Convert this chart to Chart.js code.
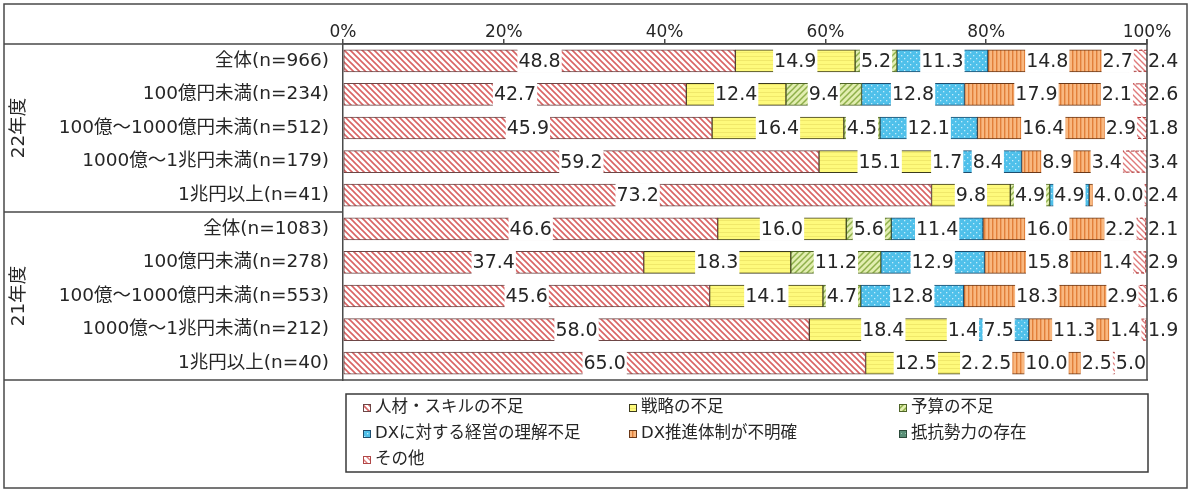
<!DOCTYPE html>
<html>
<head>
<meta charset="utf-8">
<script src="https://cdn.jsdelivr.net/npm/chart.js@4.4.1/dist/chart.umd.min.js"></script>
<style>
  html, body { margin: 0; padding: 0; background: #ffffff; }
  #wrap { width: 1200px; height: 496px; }
</style>
</head>
<body>
<div id="wrap"><canvas id="c" width="1200" height="496"></canvas></div>
<script>
// ---- data ----
const categories = [
  '全体(n=966)', '100億円未満(n=234)', '100億～1000億円未満(n=512)', '1000億～1兆円未満(n=179)', '1兆円以上(n=41)',
  '全体(n=1083)', '100億円未満(n=278)', '100億～1000億円未満(n=553)', '1000億～1兆円未満(n=212)', '1兆円以上(n=40)'
];
const groupLabels = ['22年度', '21年度'];
const groupSize = 5;
const seriesNames = ['人材・スキルの不足', '戦略の不足', '予算の不足', 'DXに対する経営の理解不足', 'DX推進体制が不明確', '抵抗勢力の存在', 'その他'];
const jinzai  = [48.8, 42.7, 45.9, 59.2, 73.2, 46.6, 37.4, 45.6, 58.0, 65.0];
const senryaku = [14.9, 12.4, 16.4, 15.1, 9.8, 16.0, 18.3, 14.1, 18.4, 12.5];
const yosan   = [5.2, 9.4, 4.5, 1.7, 4.9, 5.6, 11.2, 4.7, 1.4, 2.5];
const keiei   = [11.3, 12.8, 12.1, 8.4, 4.9, 11.4, 12.9, 12.8, 7.5, 2.5];
const suishin = [14.8, 17.9, 16.4, 8.9, 4.9, 16.0, 15.8, 18.3, 11.3, 10.0];
const teikou  = [2.7, 2.1, 2.9, 3.4, 0.0, 2.2, 1.4, 2.9, 1.4, 2.5];
const sonota  = [2.4, 2.6, 1.8, 3.4, 2.4, 2.1, 2.9, 1.6, 1.9, 5.0];
const tickValues = [0, 20, 40, 60, 80, 100];

// ---- patterns ----
const canvas = document.getElementById('c');
const mainCtx = canvas.getContext('2d');
function makePattern(size, draw) {
  const c = document.createElement('canvas');
  c.width = size; c.height = size;
  const g = c.getContext('2d');
  draw(g, size);
  return mainCtx.createPattern(c, 'repeat');
}
function hatchBack(bg, fg, w) { // "\\\" stripes
  return makePattern(6, (g, s) => {
    g.fillStyle = bg; g.fillRect(0, 0, s, s);
    g.strokeStyle = fg; g.lineWidth = w;
    g.beginPath();
    g.moveTo(-1, -1); g.lineTo(s + 1, s + 1);
    g.moveTo(-1, s - 1); g.lineTo(1, s + 1);
    g.moveTo(s - 1, -1); g.lineTo(s + 1, 1);
    g.stroke();
  });
}
function hatchFwd(bg, fg, w) { // "///" stripes
  return makePattern(6, (g, s) => {
    g.fillStyle = bg; g.fillRect(0, 0, s, s);
    g.strokeStyle = fg; g.lineWidth = w;
    g.beginPath();
    g.moveTo(-1, s + 1); g.lineTo(s + 1, -1);
    g.moveTo(-1, 1); g.lineTo(1, -1);
    g.moveTo(s - 1, s + 1); g.lineTo(s + 1, s - 1);
    g.stroke();
  });
}
const patJinzai = hatchBack('#ffffff', '#d96464', 1.6);
const patSenryaku = makePattern(4, (g, s) => {
  g.fillStyle = '#fefa7c'; g.fillRect(0, 0, s, s);
  g.fillStyle = '#f0e86a'; g.fillRect(0, 0, s, 1);
});
const patYosan = hatchFwd('#e2eeb0', '#8fb04a', 1.5);
const patKeiei = makePattern(6, (g, s) => {
  g.fillStyle = '#4fc0ea'; g.fillRect(0, 0, s, s);
  g.fillStyle = '#c4ecfa';
  g.fillRect(1, 1, 1.3, 1.3); g.fillRect(4, 4, 1.3, 1.3);
});
const patSuishin = makePattern(4, (g, s) => {
  g.fillStyle = '#f9b880'; g.fillRect(0, 0, s, s);
  g.fillStyle = '#e2803a'; g.fillRect(0, 0, 1.4, s);
});
const patTeikou = makePattern(4, (g, s) => {
  g.fillStyle = '#5a9078'; g.fillRect(0, 0, s, s);
  g.fillStyle = '#9cc8b0'; g.fillRect(1, 1, 1, 1);
});
const patSonota = hatchBack('#ffffff', '#e07a7a', 1.4);

const fills = [patJinzai, patSenryaku, patYosan, patKeiei, patSuishin, patTeikou, patSonota];
const borders = ['#6e4646', '#3b3a1e', '#4e6428', '#1e4d6e', '#6a3818', '#2c4a3a', '#b04848'];
const values = [jinzai, senryaku, yosan, keiei, suishin, teikou, sonota];

const datasets = seriesNames.map((name, i) => ({
  label: name,
  data: values[i],
  backgroundColor: fills[i],
  borderColor: borders[i],
  borderWidth: i === 6 ? 0 : 1,
  borderSkipped: false,
  barThickness: 22
}));

const FONT = '"DejaVu Sans", "Noto Sans CJK JP", sans-serif';

// ---- plugin: dashed border, labels, frame, legend, group labels ----
const decor = {
  id: 'decor',
  afterDatasetsDraw(chart) {
    const ctx = chart.ctx;
    const area = chart.chartArea;
    // dashed borders for "その他"
    const lastMeta = chart.getDatasetMeta(6);
    ctx.save();
    ctx.strokeStyle = '#a83c3c';
    ctx.lineWidth = 1;
    ctx.setLineDash([3, 2]);
    lastMeta.data.forEach(el => {
      const x0 = Math.min(el.base, el.x), x1 = Math.max(el.base, el.x);
      const h = el.height;
      ctx.strokeRect(x0 + 0.5, el.y - h / 2 + 0.5, Math.max(0, x1 - x0 - 1), h - 1);
    });
    ctx.restore();

    // value labels
    ctx.save();
    ctx.font = '19px ' + FONT;
    ctx.textBaseline = 'middle';
    chart.data.datasets.forEach((ds, di) => {
      const meta = chart.getDatasetMeta(di);
      meta.data.forEach((el, idx) => {
        const v = ds.data[idx];
        const txt = v.toFixed(1);
        const tw = ctx.measureText(txt).width;
        const x0 = Math.min(el.base, el.x), x1 = Math.max(el.base, el.x);
        const segW = x1 - x0;
        let cx = (x0 + x1) / 2;
        if (di === 6 && segW < tw + 6) {
          cx = area.right + 1 + tw / 2;
        } else if (di === 6) {
          cx += 4;
        }
        const bh = el.height;
        ctx.fillStyle = '#ffffff';
        ctx.fillRect(cx - tw / 2 - 1, el.y - bh / 2 - 1, tw + 2, bh + 2);
        ctx.fillStyle = '#262626';
        ctx.textAlign = 'center';
        ctx.fillText(txt, cx, el.y + 1);
      });
    });
    ctx.restore();
  },
  afterDraw(chart) {
    const ctx = chart.ctx;
    const area = chart.chartArea;
    const ys = chart.scales.y;
    ctx.save();
    ctx.strokeStyle = '#4a4a4a';
    ctx.lineWidth = 1.5;
    // outer frame
    ctx.strokeRect(4, 4, 1183, 484);
    ctx.beginPath();
    // header line
    ctx.moveTo(4, area.top); ctx.lineTo(area.right, area.top);
    // bottom of plot table
    ctx.moveTo(4, area.bottom); ctx.lineTo(area.right + 1, area.bottom);
    // 100% line
    ctx.moveTo(area.right, area.top - 5); ctx.lineTo(area.right, area.bottom);
    // group separators
    for (let g = 1; g < groupLabels.length; g++) {
      const yy = (ys.getPixelForValue(g * groupSize - 1) + ys.getPixelForValue(g * groupSize)) / 2;
      ctx.moveTo(4, yy); ctx.lineTo(area.left, yy);
    }
    ctx.stroke();

    // group labels (vertical)
    ctx.fillStyle = '#262626';
    ctx.font = '18.5px ' + FONT;
    ctx.textAlign = 'center';
    ctx.textBaseline = 'middle';
    groupLabels.forEach((lab, g) => {
      const yA = ys.getPixelForValue(g * groupSize);
      const yB = ys.getPixelForValue(g * groupSize + groupSize - 1);
      ctx.save();
      ctx.translate(19, (yA + yB) / 2);
      ctx.rotate(-Math.PI / 2);
      ctx.fillText(lab, 0, 0);
      ctx.restore();
    });

    // legend box
    const lx = 346, ly = 394, lw = area.right + 1 - 346, lh = 78;
    ctx.strokeStyle = '#3a3a3a';
    ctx.lineWidth = 1.5;
    ctx.strokeRect(lx, ly, lw, lh);
    const colX = [367, 633, 903];
    const rowY = [408, 434, 460];
    ctx.font = '16.5px ' + FONT;
    ctx.textAlign = 'left';
    ctx.textBaseline = 'middle';
    chart.data.datasets.forEach((ds, i) => {
      const cx = colX[i % 3], cy = rowY[Math.floor(i / 3)];
      ctx.fillStyle = ds.backgroundColor;
      ctx.fillRect(cx - 4, cy - 4, 8, 8);
      ctx.strokeStyle = ds.borderColor;
      ctx.lineWidth = 1;
      ctx.setLineDash([]);
      ctx.strokeRect(cx - 4 + 0.5, cy - 4 + 0.5, 7, 7);
      ctx.fillStyle = '#262626';
      ctx.fillText(ds.label, cx + 8, cy);
    });
    ctx.restore();
  }
};

new Chart(canvas, {
  type: 'bar',
  data: { labels: categories, datasets: datasets },
  options: {
    indexAxis: 'y',
    responsive: false,
    animation: false,
    devicePixelRatio: 1,
    layout: { padding: { left: 0, right: 53, top: 0, bottom: 116 } },
    plugins: { legend: { display: false }, tooltip: { enabled: false } },
    scales: {
      x: {
        position: 'top',
        stacked: true,
        min: 0,
        max: 100,
        afterBuildTicks: (s) => { s.ticks = tickValues.map(v => ({ value: v })); },
        ticks: {
          callback: (v) => v + '%',
          font: { family: FONT, size: 17, lineHeight: 0.8 },
          color: '#262626',
          padding: 0,
          maxRotation: 0
        },
        grid: { drawOnChartArea: false, drawTicks: true, tickLength: 5, color: '#4a4a4a', lineWidth: 1.5 },
        border: { display: true, color: '#4a4a4a', width: 1.5 },
        afterFit: (s) => { s.height = 44; }
      },
      y: {
        stacked: true,
        ticks: {
          font: { family: FONT, size: 18.5 },
          color: '#262626',
          padding: 6,
          autoSkip: false
        },
        grid: { display: false },
        border: { display: true, color: '#4a4a4a', width: 1.5 },
        afterFit: (s) => { s.width = 343; }
      }
    }
  },
  plugins: [decor]
});
</script>
</body>
</html>
